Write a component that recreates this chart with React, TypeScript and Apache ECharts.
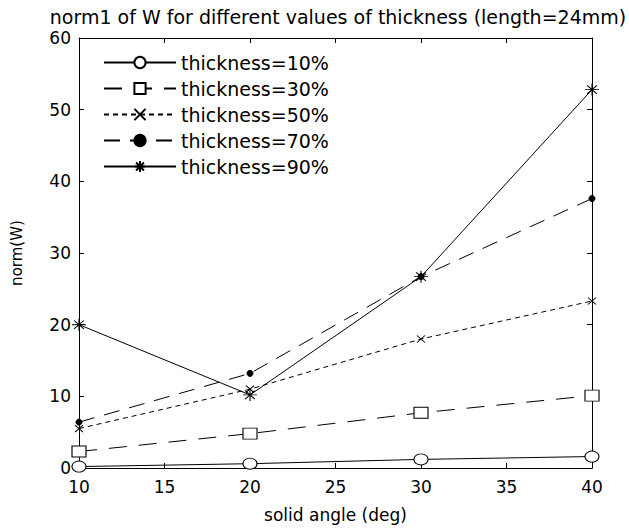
import React, { useEffect, useRef } from "react";
import * as echarts from "echarts";

const angles = [10, 20, 30, 40];
const t10 = [0.2, 0.6, 1.2, 1.6];
const t30 = [2.3, 4.8, 7.7, 10.1];
const t50 = [5.5, 11.0, 18.0, 23.3];
const t70 = [6.4, 13.2, 26.7, 37.6];
const t90 = [20.0, 10.2, 26.7, 52.8];
const seriesNames = [
  "thickness=10%",
  "thickness=30%",
  "thickness=50%",
  "thickness=70%",
  "thickness=90%",
];

const FONT = "DejaVu Sans";
const XMARK = "path://M0,0L10,10M10,0L0,10";
const STAR = "path://M5,0L5,10M0,5L10,5M1.5,1.5L8.5,8.5M1.5,8.5L8.5,1.5";

export default function App() {
  const ref = useRef<HTMLDivElement>(null);
  useEffect(() => {
    if (!ref.current) return;
    const chart = echarts.init(ref.current, undefined, { renderer: "svg" });
    const pairs = (vals: number[]) => angles.map((a, i) => [a, vals[i]]);
    const base = (name: string, vals: number[], dash: any, symbol: string, size: any, fill: string) => ({
      name,
      type: "line",
      data: pairs(vals),
      symbol,
      symbolSize: size,
      symbolKeepAspect: false,
      lineStyle: { color: "#000", width: 1, type: dash },
      itemStyle: { color: fill, borderColor: "#000", borderWidth: 1 },
      emphasis: { disabled: true },
      z: 3,
    });
    const axisCommon = {
      axisLine: { show: true, onZero: false, lineStyle: { color: "#000", width: 1 } },
      axisTick: { show: true, inside: true, length: 5, lineStyle: { color: "#000" } },
      splitLine: { show: false },
    };
    chart.setOption({
      animation: false,
      backgroundColor: "#fff",
      title: {
        text: "norm1 of W for different values of thickness (length=24mm)",
        left: 333,
        textAlign: "center",
        top: 2,
        textStyle: { fontFamily: FONT, fontSize: 19, fontWeight: "normal", color: "#000" },
      },
      grid: { left: 79, right: 37, top: 38, bottom: 46, containLabel: false },
      legend: {
        orient: "vertical",
        left: 103,
        top: 53,
        itemWidth: 72,
        itemHeight: 14,
        itemGap: 7,
        padding: 0,
        textStyle: { fontFamily: FONT, fontSize: 19, color: "#000" },
        data: seriesNames,
      },
      xAxis: [
        {
          type: "value",
          min: 10,
          max: 40,
          interval: 5,
          name: "solid angle (deg)",
          nameLocation: "middle",
          nameGap: 38,
          nameTextStyle: { fontFamily: FONT, fontSize: 17, color: "#000" },
          axisLabel: { fontFamily: FONT, fontSize: 17, color: "#000", margin: 10 },
          ...axisCommon,
        },
        {
          type: "value",
          position: "top",
          min: 10,
          max: 40,
          interval: 5,
          axisLabel: { show: false },
          ...axisCommon,
        },
      ],
      yAxis: [
        {
          type: "value",
          min: 0,
          max: 60,
          interval: 10,
          name: "norm(W)",
          nameLocation: "middle",
          nameGap: 55,
          nameRotate: 90,
          nameTextStyle: { fontFamily: FONT, fontSize: 15, color: "#000" },
          axisLabel: { fontFamily: FONT, fontSize: 17, color: "#000", margin: 8 },
          ...axisCommon,
        },
        {
          type: "value",
          position: "right",
          min: 0,
          max: 60,
          interval: 10,
          axisLabel: { show: false },
          ...axisCommon,
        },
      ],
      series: [
        base(seriesNames[0], t10, "solid", "circle", [14, 11], "#fff"),
        base(seriesNames[1], t30, [18, 12], "rect", [14, 11], "#fff"),
        base(seriesNames[2], t50, [5, 4], XMARK, [8, 7], "transparent"),
        base(seriesNames[3], t70, [16, 10], "circle", 6, "#000"),
        base(seriesNames[4], t90, "solid", STAR, [14, 12], "transparent"),
      ],
    });
    return () => chart.dispose();
  }, []);
  return <div ref={ref} style={{ width: 629, height: 528, position: "absolute", left: 0, top: 0 }} />;
}
